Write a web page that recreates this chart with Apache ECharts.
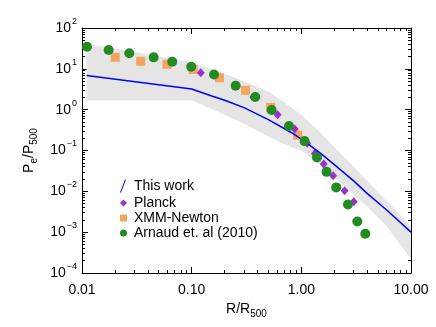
<!DOCTYPE html>
<html>
<head>
<meta charset="utf-8">
<script src="https://cdn.jsdelivr.net/npm/echarts@6/dist/echarts.min.js"></script>
<style>
html,body{margin:0;padding:0;background:#fff;}
#chart{width:436px;height:327px;}
</style>
</head>
<body>
<div id="chart"></div>
<script>
// ---- Data ----
var arnaudX = [0.0111, 0.0175, 0.027, 0.045, 0.0665, 0.099, 0.16, 0.252, 0.38, 0.536, 0.771, 1.07, 1.39, 1.70, 2.08, 2.66, 3.24, 3.83];
var arnaudY = [34.7, 28.9, 24.0, 19.1, 14.9, 11.2, 7.3, 3.86, 2.04, 0.98, 0.40, 0.17, 0.0678, 0.030, 0.0125, 0.00478, 0.00183, 0.00091];

var xmmX = [0.0201, 0.0343, 0.0596, 0.103, 0.179, 0.31, 0.525, 0.925];
var xmmY = [19.1, 15.3, 12.9, 9.7, 6.05, 2.97, 1.14, 0.238];

var planckX = [0.121, 0.365, 0.608, 0.869, 1.13, 1.33, 1.60, 1.95, 2.48, 3.01];
var planckY = [8.0, 2.0, 0.75, 0.335, 0.15, 0.085, 0.0464, 0.024, 0.0103, 0.00553];

var workX = [0.011, 0.1, 0.15, 0.2, 0.3, 0.5, 0.8, 1.0, 1.5, 2.0, 3.0, 4.0, 6.0, 10.0];
var workY = [6.9, 3.2, 2.2, 1.7, 1.12, 0.57, 0.28, 0.19, 0.085, 0.045, 0.018, 0.0088, 0.0035, 0.001];

var bandX     = [0.011, 0.1, 0.2, 0.3, 0.5, 0.7, 1.0, 1.5, 2.0, 3.0, 4.0, 6.0, 10.0];
var bandUpper = [42, 14.5, 7.6, 5.0, 2.8, 1.5, 0.75, 0.27, 0.12, 0.04, 0.018, 0.0058, 0.0014];
var bandLower = [1.7, 1.7, 0.75, 0.45, 0.22, 0.14, 0.1, 0.045, 0.022, 0.0085, 0.0042, 0.0014, 0.00022];

var xTickLabels = ['0.01', '0.10', '1.00', '10.00'];
var xMajor = [0.01, 0.1, 1, 10];

// minor tick positions (log10 space) for decades
function minorLog(d0, d1) {
  var out = [];
  for (var d = d0; d < d1; d++) {
    for (var k = 2; k <= 9; k++) out.push(d + Math.log10(k));
  }
  return out;
}
var xMinorLog = minorLog(-2, 1);
var yMinorLog = minorLog(-4, 2);

function pairs(xs, ys) { return xs.map(function (x, i) { return [x, ys[i]]; }); }

var FONT = 'Liberation Sans, Arial, Helvetica, sans-serif';
var black = '#000';

function xLabel(v) {
  var e = Math.round(Math.log10(v));
  var idx = xMajor.findIndex(function (m) { return Math.abs(Math.log10(m) - e) < 1e-6; });
  return idx >= 0 ? xTickLabels[idx] : '';
}
function yLabel(v) {
  var e = Math.round(Math.log10(v));
  var s = e < 0 ? '\u2212' + (-e) : String(e);
  return '{b|10}{s|' + s + '}';
}

var chart = echarts.init(document.getElementById('chart'), null, { renderer: 'canvas' });

var majorTick = { show: true, inside: true, length: 6, lineStyle: { color: black, width: 1 } };
function minorTickStyle(vals) {
  return { show: true, inside: true, length: 3, customValues: vals, lineStyle: { color: black, width: 1 } };
}
var hiddenLine = { show: false, onZero: false };
var shownLine = { show: true, onZero: false, lineStyle: { color: black, width: 1 } };

var option = {
  animation: false,
  backgroundColor: '#fff',
  textStyle: { fontFamily: FONT },
  grid: { left: 82, right: 25, top: 28, bottom: 54, containLabel: false },
  legend: [
    {
      data: [{ name: 'This work', icon: 'path://M5,0L6,0L1,13L0,13Z' }],
      orient: 'vertical', left: 120, top: 179, padding: 0,
      itemWidth: 6, itemHeight: 13, itemGap: 0,
      selectedMode: false,
      textStyle: { fontFamily: FONT, fontSize: 14, color: black, padding: [0, 0, 0, 3] }
    },
    {
      data: [
        { name: 'Planck', icon: 'diamond' },
        { name: 'XMM-Newton', icon: 'rect' },
        { name: 'Arnaud et. al (2010)', icon: 'circle' }
      ],
      orient: 'vertical', left: 120, top: 196, padding: 0,
      itemWidth: 7, itemHeight: 7, itemGap: 1,
      selectedMode: false,
      textStyle: { fontFamily: FONT, fontSize: 14, color: black, padding: [0, 0, 0, 2] }
    }
  ],
  xAxis: [
    {
      type: 'log', logBase: 10, min: 0.01, max: 10, position: 'bottom',
      name: '{a|R/R}{s|500}', nameLocation: 'middle', nameGap: 24,
      nameTextStyle: {
        rich: {
          a: { fontFamily: FONT, fontSize: 14, color: black, verticalAlign: 'top' },
          s: { fontFamily: FONT, fontSize: 10, color: black, verticalAlign: 'top', padding: [7, 0, 0, 0] }
        }
      },
      axisLine: shownLine,
      axisTick: majorTick,
      minorTick: { show: false },
      splitLine: { show: false },
      axisLabel: { show: true, margin: 10, fontFamily: FONT, fontSize: 14, color: black, formatter: xLabel }
    },
    {
      type: 'value', min: -2, max: 1, position: 'bottom',
      axisLine: hiddenLine, axisLabel: { show: false }, splitLine: { show: false },
      axisTick: minorTickStyle(xMinorLog)
    },
    {
      type: 'log', logBase: 10, min: 0.01, max: 10, position: 'top',
      axisLine: shownLine,
      axisTick: majorTick, axisLabel: { show: false }, splitLine: { show: false }
    },
    {
      type: 'value', min: -2, max: 1, position: 'top',
      axisLine: hiddenLine, axisLabel: { show: false }, splitLine: { show: false },
      axisTick: minorTickStyle(xMinorLog)
    }
  ],
  yAxis: [
    {
      type: 'log', logBase: 10, min: 1e-4, max: 100, position: 'left',
      name: '{a|P}{s|e}{a|/P}{s|500}', nameLocation: 'middle', nameGap: 31, nameRotate: 90,
      nameTextStyle: {
        rich: {
          a: { fontFamily: FONT, fontSize: 14, color: black, verticalAlign: 'top' },
          s: { fontFamily: FONT, fontSize: 10, color: black, verticalAlign: 'top', padding: [7, 0, 0, 0] }
        }
      },
      axisLine: shownLine,
      axisTick: majorTick,
      splitLine: { show: false },
      axisLabel: {
        show: true, margin: 5, formatter: yLabel,
        rich: {
          b: { fontFamily: FONT, fontSize: 14, color: black, verticalAlign: 'bottom', lineHeight: 14 },
          s: { fontFamily: FONT, fontSize: 9, color: black, verticalAlign: 'bottom', lineHeight: 9, padding: [0, 0, 9, 1] }
        }
      }
    },
    {
      type: 'value', min: -4, max: 2, position: 'left',
      axisLine: hiddenLine, axisLabel: { show: false }, splitLine: { show: false },
      axisTick: minorTickStyle(yMinorLog)
    },
    {
      type: 'log', logBase: 10, min: 1e-4, max: 100, position: 'right',
      axisLine: shownLine,
      axisTick: majorTick, axisLabel: { show: false }, splitLine: { show: false }
    },
    {
      type: 'value', min: -4, max: 2, position: 'right',
      axisLine: hiddenLine, axisLabel: { show: false }, splitLine: { show: false },
      axisTick: minorTickStyle(yMinorLog)
    }
  ],
  series: [
    {
      type: 'custom', name: 'band', xAxisIndex: 0, yAxisIndex: 0, silent: true, z: 1,
      data: [[0.1, 1]],
      renderItem: function (params, api) {
        var pts = [];
        for (var i = 0; i < bandX.length; i++) pts.push(api.coord([bandX[i], bandUpper[i]]));
        for (var j = bandX.length - 1; j >= 0; j--) pts.push(api.coord([bandX[j], bandLower[j]]));
        return { type: 'polygon', shape: { points: pts, smooth: 0 }, style: { fill: '#e5e5e5', stroke: null } };
      }
    },
    {
      type: 'scatter', name: 'XMM-Newton', xAxisIndex: 0, yAxisIndex: 0, z: 3,
      symbol: 'rect', symbolSize: 9,
      itemStyle: { color: '#f4a460', opacity: 1 },
      data: pairs(xmmX, xmmY)
    },
    {
      type: 'scatter', name: 'Planck', xAxisIndex: 0, yAxisIndex: 0, z: 4,
      symbol: 'diamond', symbolSize: [8, 9],
      itemStyle: { color: '#9932cc', opacity: 1 },
      data: pairs(planckX, planckY)
    },
    {
      type: 'line', name: 'This work', xAxisIndex: 0, yAxisIndex: 0, z: 5,
      showSymbol: false, symbol: 'none', smooth: false,
      color: '#0000ff',
      itemStyle: { color: '#0000ff' },
      lineStyle: { color: '#0000ff', width: 1.5 },
      data: pairs(workX, workY)
    },
    {
      type: 'scatter', name: 'Arnaud et. al (2010)', xAxisIndex: 0, yAxisIndex: 0, z: 6,
      symbol: 'circle', symbolSize: 10,
      itemStyle: { color: '#228b22', opacity: 1 },
      data: pairs(arnaudX, arnaudY)
    }
  ]
};
chart.setOption(option);
</script>
</body>
</html>
